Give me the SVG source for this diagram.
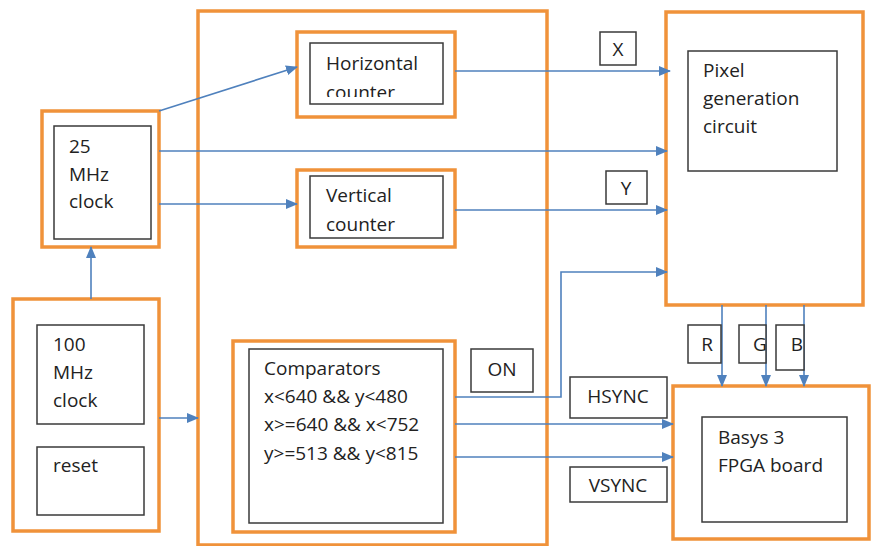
<svg xmlns="http://www.w3.org/2000/svg" width="871" height="546" viewBox="0 0 871 546">
<style>
.o{fill:#fff;stroke:#f0923a;stroke-width:3.5}
.i{fill:#fff;stroke:#3a3a3a;stroke-width:1.5}
.l{fill:#fff;stroke:#3a3a3a;stroke-width:1.5}
text{font-family:"Open Sans","Liberation Sans",sans-serif;font-size:19px;fill:#222}
.c{fill:none;stroke:#4f81bd;stroke-width:1.6}
</style>
<defs>
<marker id="a" markerWidth="12" markerHeight="10" refX="11" refY="5" orient="auto" markerUnits="userSpaceOnUse">
<path d="M0,0 L12,5 L0,10 Z" fill="#4f81bd"/>
</marker>
<clipPath id="hc"><rect x="310" y="43" width="133" height="54"/></clipPath>
</defs>
<rect id="main" class="o" x="198" y="11" width="349" height="534"/>
<g id="clk100">
<rect class="o" x="13" y="299" width="146" height="232"/>
<rect class="i" x="37" y="325" width="107" height="99"/>
<text x="53" y="351">100</text><text x="53" y="379">MHz</text><text x="53" y="407">clock</text>
</g>
<g id="reset">
<rect class="i" x="37" y="447" width="107" height="68"/>
<text x="53" y="472">reset</text>
</g>
<g id="clk25">
<rect class="o" x="42" y="111" width="117" height="136"/>
<rect class="i" x="54" y="126" width="97" height="113"/>
<text x="69" y="153">25</text><text x="69" y="181">MHz</text><text x="69" y="208">clock</text>
</g>
<g id="hcounter">
<rect class="o" x="297" y="32" width="158" height="85"/>
<rect class="i" x="310" y="43" width="133" height="61"/>
<text x="326" y="70">Horizontal</text>
<text x="326" y="99" clip-path="url(#hc)">counter</text>
</g>
<g id="vcounter">
<rect class="o" x="297" y="170" width="158" height="77"/>
<rect class="i" x="310" y="176" width="133" height="62"/>
<text x="326" y="202">Vertical</text><text x="326" y="231">counter</text>
</g>
<g id="comparators">
<rect class="o" x="233" y="341" width="222" height="191"/>
<rect class="i" x="249" y="349" width="194" height="174"/>
<text x="264" y="375">Comparators</text>
<text x="264" y="403">x&lt;640 &amp;&amp; y&lt;480</text>
<text x="264" y="431">x&gt;=640 &amp;&amp; x&lt;752</text>
<text x="264" y="460">y&gt;=513 &amp;&amp; y&lt;815</text>
</g>
<g id="pixelgen">
<rect class="o" x="666" y="12" width="197" height="293"/>
<rect class="i" x="688" y="51" width="149" height="120"/>
<text x="703" y="77">Pixel</text><text x="703" y="105">generation</text><text x="703" y="133">circuit</text>
</g>
<g id="basys">
<rect class="o" x="673" y="386" width="196" height="153"/>
<rect class="i" x="702" y="417" width="145" height="105"/>
<text x="718" y="444">Basys 3</text><text x="718" y="472">FPGA board</text>
</g>
<g id="connectors">
<path class="c" d="M91,299 V247" marker-end="url(#a)"/>
<path class="c" d="M159,418 H198" marker-end="url(#a)"/>
<path class="c" d="M159,111 L297,67" marker-end="url(#a)"/>
<path class="c" d="M159,151 H667" marker-end="url(#a)"/>
<path class="c" d="M159,204 H297" marker-end="url(#a)"/>
<path class="c" d="M455,71 H670" marker-end="url(#a)"/>
<path class="c" d="M455,210 H667" marker-end="url(#a)"/>
<path class="c" d="M455,397 H561 V272 H667" marker-end="url(#a)"/>
<path class="c" d="M455,424 H673" marker-end="url(#a)"/>
<path class="c" d="M455,457 H673" marker-end="url(#a)"/>
<path class="c" d="M722,305 V386" marker-end="url(#a)"/>
<path class="c" d="M766,305 V386" marker-end="url(#a)"/>
<path class="c" d="M804,305 V386" marker-end="url(#a)"/>
</g>
<g id="labels">
<rect class="l" x="600" y="32" width="36" height="33"/><text x="618" y="56" text-anchor="middle">X</text>
<rect class="l" x="606" y="171" width="41" height="33"/><text x="626" y="195" text-anchor="middle">Y</text>
<rect class="l" x="471" y="349" width="62" height="43"/><text x="502" y="376" text-anchor="middle">ON</text>
<rect class="l" x="570" y="377" width="97" height="41"/><text x="618" y="403" text-anchor="middle">HSYNC</text>
<rect class="l" x="570" y="467" width="97" height="35"/><text x="618" y="492" text-anchor="middle">VSYNC</text>
<rect class="l" x="688" y="325" width="33" height="38"/><text x="707" y="351" text-anchor="middle">R</text>
<rect class="l" x="739" y="325" width="27" height="38"/><text x="760" y="351" text-anchor="middle">G</text>
<rect class="l" x="776" y="325" width="28" height="45"/><text x="797" y="351" text-anchor="middle">B</text>
</g>
</svg>
